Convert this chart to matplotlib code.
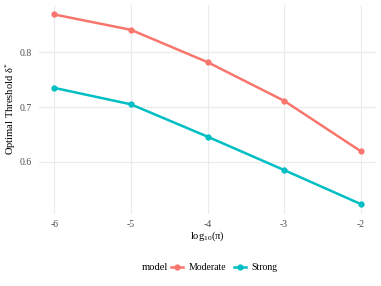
import matplotlib
matplotlib.use("Agg")
import matplotlib.pyplot as plt
from matplotlib.lines import Line2D

log_pi = [-6, -5, -4, -3, -2]
moderate = [0.869, 0.841, 0.782, 0.7115, 0.6195]
strong = [0.735, 0.705, 0.646, 0.585, 0.523]
series_names = ["Moderate", "Strong"]
colors = ["#F8766D", "#00BFC4"]
xticks = [-6, -5, -4, -3, -2]
yticks = [0.6, 0.7, 0.8]

plt.rcParams['font.family'] = ['Liberation Serif', 'DejaVu Serif']
plt.rcParams['mathtext.fontset'] = 'custom'
plt.rcParams['mathtext.rm'] = 'Liberation Serif'
plt.rcParams['mathtext.it'] = 'Liberation Serif:italic'

W, H = 381, 286
fig = plt.figure(figsize=(W/100, H/100), dpi=100)
ax = fig.add_axes([39/W, 1 - 213.5/H, (376-39)/W, (213.5-5)/H])

for vals, c in zip([moderate, strong], colors):
    ax.plot(log_pi, vals, color=c, lw=1.8, marker='o', ms=3.5, zorder=3)

ax.set_xlim(-6.2, -1.8)
lo = min(strong); hi = max(moderate); r = hi - lo
ax.set_ylim(lo - 0.05*r, hi + 0.05*r)
ax.set_xticks(xticks)
ax.set_xticklabels([str(t) for t in xticks])
ax.set_yticks(yticks)
ax.set_yticklabels([f"{t:.1f}" for t in yticks])
ax.grid(True, color='#EBEBEB', lw=0.8)
ax.set_axisbelow(True)
for s in ax.spines.values():
    s.set_visible(False)
ax.tick_params(length=0, labelsize=7, labelcolor='#4D4D4D', pad=5)

fig.text(207/W, 1 - 236/H, r'$\mathrm{log}_{10}(\mathrm{\pi})$', fontsize=7.6,
         ha='center', va='center')
fig.text(11/W, 1 - 109/H, r'Optimal Threshold $\mathrm{\delta}^{*}$', fontsize=7.6,
         ha='center', va='center', rotation=90)

handles = [Line2D([0], [0], color=c, lw=1.8, marker='o', ms=3.5) for c in colors]
fig.text(142/W, 1 - 268/H, 'model', fontsize=7.6, ha='left', va='center')
leg = fig.legend(handles, series_names, loc='center left', bbox_to_anchor=(171/W, 1 - 268/H),
                 ncol=2, frameon=False, prop={'family': 'Liberation Serif', 'size': 7},
                 handlelength=1.2, handletextpad=0.6,
                 columnspacing=0.8, borderaxespad=0, borderpad=0)

fig.savefig('out.png', dpi=100)
